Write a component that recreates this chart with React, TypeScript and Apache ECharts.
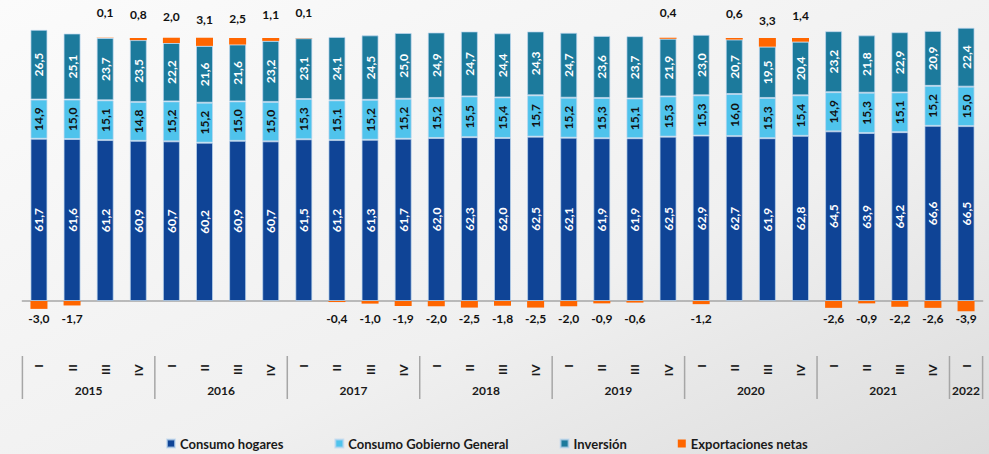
import React, { useEffect, useRef } from 'react';
import * as echarts from 'echarts';

const quarters = [
  'I', 'II', 'III', 'IV', 'I', 'II', 'III', 'IV', 'I', 'II', 'III', 'IV',
  'I', 'II', 'III', 'IV', 'I', 'II', 'III', 'IV', 'I', 'II', 'III', 'IV',
  'I', 'II', 'III', 'IV', 'I',
];
const years = ['2015', '2016', '2017', '2018', '2019', '2020', '2021', '2022'];
const quartersPerYear = [4, 4, 4, 4, 4, 4, 4, 1];

const hogares = [61.7, 61.6, 61.2, 60.9, 60.7, 60.2, 60.9, 60.7, 61.5, 61.2, 61.3, 61.7, 62.0, 62.3, 62.0, 62.5, 62.1, 61.9, 61.9, 62.5, 62.9, 62.7, 61.9, 62.8, 64.5, 63.9, 64.2, 66.6, 66.5];
const gobierno = [14.9, 15.0, 15.1, 14.8, 15.2, 15.2, 15.0, 15.0, 15.3, 15.1, 15.2, 15.2, 15.2, 15.5, 15.4, 15.7, 15.2, 15.3, 15.1, 15.3, 15.3, 16.0, 15.3, 15.4, 14.9, 15.3, 15.1, 15.2, 15.0];
const inversion = [26.5, 25.1, 23.7, 23.5, 22.2, 21.6, 21.6, 23.2, 23.1, 24.1, 24.5, 25.0, 24.9, 24.7, 24.4, 24.3, 24.7, 23.6, 23.7, 21.9, 23.0, 20.7, 19.5, 20.4, 23.2, 21.8, 22.9, 20.9, 22.4];
const exportaciones = [-3.0, -1.7, 0.1, 0.8, 2.0, 3.1, 2.5, 1.1, 0.1, -0.4, -1.0, -1.9, -2.0, -2.5, -1.8, -2.5, -2.0, -0.9, -0.6, 0.4, -1.2, 0.6, 3.3, 1.4, -2.6, -0.9, -2.2, -2.6, -3.9];

const FONT = 'Lato, "Open Sans", sans-serif';
const fmt = (v: number) => v.toFixed(1).replace('.', ',');

export default function App() {
  const ref = useRef<HTMLDivElement>(null);

  useEffect(() => {
    if (!ref.current) return;
    const chart = echarts.init(ref.current, null, { renderer: 'svg' });

    const border = { borderColor: 'rgba(190,215,240,0.7)', borderWidth: 1 };
    const inLabel = (color: string) => ({
      show: true,
      position: 'inside',
      rotate: 90,
      color,
      fontFamily: FONT,
      fontWeight: 'bold',
      fontSize: 12,
      formatter: (p: any) => fmt(p.value),
    });

    chart.setOption({
      animation: false,
      backgroundColor: {
        type: 'linear', x: 0, y: 0, x2: 1, y2: 1,
        colorStops: [
          { offset: 0, color: '#fbfbfb' },
          { offset: 0.6, color: '#f0f0f0' },
          { offset: 1, color: '#dcdcdc' },
        ],
      },
      grid: { left: 22.4, right: 6.4, top: 24.85, bottom: 126.7, containLabel: false, outerBoundsMode: 'none' },
      legend: {
        left: 166,
        top: 437,
        padding: 0,
        itemWidth: 8,
        itemHeight: 8,
        itemGap: 51,
        icon: 'rect',
        textStyle: { fontFamily: FONT, fontWeight: 'bold', fontSize: 13, color: '#1a1a1a' },
        data: ['Consumo hogares', 'Consumo Gobierno General', 'Inversión', 'Exportaciones netas'],
      },
      xAxis: {
        type: 'category',
        data: quarters,
        axisLine: { onZero: true, lineStyle: { color: '#a6a6a6', width: 1.5 } },
        axisTick: { show: false },
        axisLabel: {
          rotate: 90,
          margin: 37,
          interval: 0,
          fontFamily: FONT,
          fontWeight: 'bold',
          fontSize: 12,
          color: '#1a1a1a',
        },
      },
      yAxis: {
        type: 'value',
        min: -10,
        max: 105,
        show: false,
        splitLine: { show: false },
      },
      series: [
        {
          name: 'Consumo hogares', type: 'bar', stack: 'total', barWidth: 17,
          itemStyle: { color: '#0F4496', ...border },
          label: inLabel('#ffffff'),
          data: hogares,
        },
        {
          name: 'Consumo Gobierno General', type: 'bar', stack: 'total', barWidth: 17,
          itemStyle: { color: '#4FC3EC', ...border },
          label: inLabel('#111111'),
          data: gobierno,
        },
        {
          name: 'Inversión', type: 'bar', stack: 'total', barWidth: 17,
          itemStyle: { color: '#1C7A9C', ...border },
          label: inLabel('#ffffff'),
          data: inversion,
        },
        {
          name: 'Exportaciones netas', type: 'bar', stack: 'total', barWidth: 17,
          itemStyle: { color: '#FF6600' },
          label: {
            show: true,
            color: '#111111',
            fontFamily: FONT,
            fontWeight: 'bold',
            fontSize: 12,
            formatter: (p: any) => fmt(p.value),
          },
          data: exportaciones.map((v) => ({
            value: v,
            label: v >= 0
              ? { position: 'insideBottom', distance: 0, offset: [0, -20] }
              : { position: 'insideTop', distance: 0, offset: [0, 11] },
          })),
        },
      ],
    });

    const px = (i: number) => chart.convertToPixel({ xAxisIndex: 0 }, i) as number;
    const step = px(1) - px(0);
    const graphics: any[] = [];
    let start = 0;
    graphics.push({
      type: 'line',
      shape: { x1: px(0) - step / 2, y1: 356, x2: px(0) - step / 2, y2: 399 },
      style: { stroke: '#a6a6a6', lineWidth: 1.5 },
    });
    years.forEach((y, k) => {
      const n = quartersPerYear[k];
      const end = start + n - 1;
      const cx = (px(start) + px(end)) / 2;
      const bx = px(end) + step / 2;
      graphics.push({
        type: 'text',
        x: cx,
        y: 390,
        style: {
          text: y, fill: '#1a1a1a', fontFamily: FONT, fontWeight: 'bold', fontSize: 12,
          align: 'center', verticalAlign: 'middle',
        },
      });
      graphics.push({
        type: 'line',
        shape: { x1: bx, y1: 356, x2: bx, y2: 399 },
        style: { stroke: '#a6a6a6', lineWidth: 1.5 },
      });
      start += n;
    });
    chart.setOption({ graphic: graphics });

    return () => chart.dispose();
  }, []);

  return (
    <div
      ref={ref}
      style={{ position: 'fixed', left: 0, top: 0, width: 989, height: 454 }}
    />
  );
}
